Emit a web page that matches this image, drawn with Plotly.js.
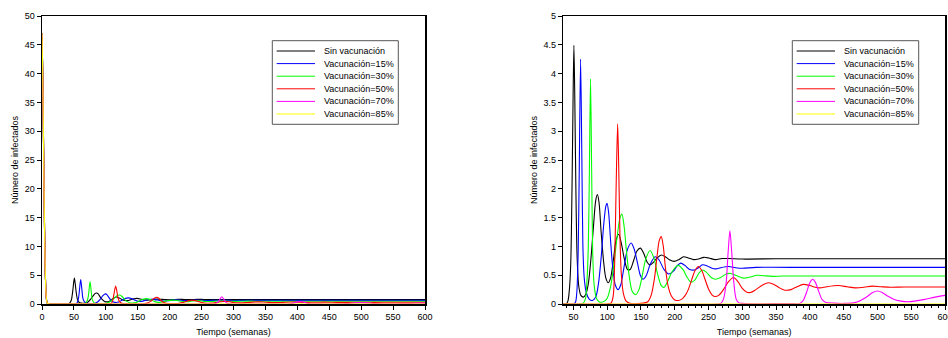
<!DOCTYPE html>
<html><head><meta charset="utf-8">
<script src="https://cdn.plot.ly/plotly-3.0.1.min.js"></script>
<style>html,body{margin:0;padding:0;background:#fff;overflow:hidden}#chart{width:948px;height:338px}</style>
</head><body><div id="chart"></div>
<script>
// ---- data ----
const seriesNames = ['Sin vacunación','Vacunación=15%','Vacunación=30%','Vacunación=50%','Vacunación=70%','Vacunación=85%'];
const seriesColors = ['#000000','#0000ff','#00ff00','#ff0000','#ff00ff','#ffff00'];

// initial outbreak (weeks 0-15), shared by all scenarios
const spikeT = [0,1,2,3,4,5,6,7,8,10,15];
const spikeY = [47,41,32,22,13,6.5,2.5,0.8,0.2,0.02,0];

const tBlack = [20,38,40,42,44,46,48,49.5,50.7,52,53.5,55.5,58,61,64.5,68,72,76,80,83,85.5,88,91,95,98,101.5,105,109,113,117,121,125,130,134,139,144,149,154,159,163,168,174,180,186,192,199,206,213,220,228,235,243,250,260,270,280,300,350,400,500,600];
const yBlack = [0,0,0.01,0.06,0.25,0.7,2.1,3.6,4.49,3.6,2.1,0.8,0.3,0.15,0.12,0.16,0.35,0.8,1.4,1.8,1.9,1.75,1.25,0.7,0.45,0.37,0.45,0.75,1.1,1.21,1.05,0.8,0.6,0.6,0.75,0.92,0.97,0.88,0.73,0.68,0.72,0.8,0.85,0.82,0.77,0.74,0.77,0.82,0.8,0.77,0.78,0.81,0.8,0.77,0.79,0.79,0.78,0.785,0.785,0.785,0.785];

const tBlue = [20,50,53,55,57,58.5,60.6,62.5,64,66,69,73,78,83,87,91,95,98,99.7,102,105,108,112,116,120,125,130,135.5,140,145,149,153,158,164,171,177,184,191,198,204,209,215,222,229,235,241,248,255,261,268,280,290,300,320,400,500,600];
const yBlue = [0,0,0.03,0.2,0.9,2.2,4.25,2.5,1.0,0.45,0.2,0.09,0.06,0.12,0.35,0.8,1.4,1.7,1.75,1.6,1.1,0.65,0.33,0.25,0.33,0.65,0.95,1.06,0.95,0.7,0.5,0.43,0.5,0.7,0.82,0.76,0.6,0.52,0.57,0.67,0.71,0.67,0.6,0.59,0.63,0.68,0.66,0.62,0.61,0.63,0.65,0.63,0.62,0.635,0.635,0.635,0.635];

const tGreen = [20,60,65,68,70,72,73.5,75.3,77,78.5,80.5,84,88,92,96,100,105,110,115,119,121.8,125,129,133,137,142,147,152,157,163.5,169,175,180,184,189,196,205,212,218,224,230,236,241,247,254,260,268,276,283,292,302,312,322,332,345,360,400,500,600];
const yGreen = [0,0,0.02,0.1,0.4,1.0,2.2,3.91,2.3,0.9,0.35,0.1,0.04,0.03,0.05,0.1,0.3,0.7,1.2,1.5,1.56,1.35,0.85,0.45,0.22,0.16,0.25,0.5,0.78,0.93,0.8,0.5,0.32,0.29,0.38,0.56,0.67,0.6,0.47,0.38,0.42,0.54,0.59,0.55,0.46,0.43,0.46,0.52,0.53,0.49,0.45,0.47,0.5,0.49,0.48,0.485,0.485,0.485,0.485];

const tRed = [20,100,106,109,111,113,115.4,117,119,121,124,128,135,150,160,165,170,174,177,180,183,186,190,195,200,205,210,215,220,225,230,235,240,245,250,255,259,265,272,279,287,294,300,306,312,320,330,339,347,355,363,372,381,390,400,408,415,425,442,455,467,480,492,505,520,540,600];
const yRed = [0,0,0.02,0.15,0.7,1.9,3.13,2.4,1.1,0.5,0.18,0.05,0.01,0.01,0.04,0.15,0.45,0.85,1.1,1.17,1.0,0.65,0.32,0.14,0.07,0.06,0.08,0.14,0.25,0.42,0.58,0.65,0.58,0.42,0.26,0.16,0.13,0.15,0.25,0.38,0.46,0.38,0.27,0.21,0.2,0.25,0.33,0.37,0.34,0.28,0.24,0.25,0.3,0.34,0.32,0.29,0.28,0.3,0.32,0.3,0.28,0.29,0.31,0.3,0.29,0.295,0.295];

const tMagenta = [20,262,268,272,276,279,281.6,284,287.5,291,295,300,320,370,385,390,395,400,404,408,413,418,423,435,450,465,475,485,493,500,507,515,525,535,545,555,570,585,600];
const yMagenta = [0,0,0.01,0.08,0.36,0.9,1.27,0.95,0.36,0.08,0.02,0.01,0.005,0.008,0.01,0.06,0.2,0.37,0.43,0.38,0.22,0.08,0.03,0.015,0.01,0.02,0.06,0.13,0.2,0.226,0.2,0.14,0.08,0.05,0.04,0.05,0.08,0.12,0.15];

const tYellow = [20,600];
const yYellow = [0,0];

const xTickStep = 50;
const yTickStepLeft = 5;
const yTickStepRight = 0.5;
const xTitle = 'Tiempo (semanas)';
const yTitle = 'Número de infectados';

// ---- build traces ----
const seriesT = [tBlack,tBlue,tGreen,tRed,tMagenta,tYellow];
const seriesY = [yBlack,yBlue,yGreen,yRed,yMagenta,yYellow];
const traces = [];
['x','x2'].forEach((xa,k)=>{
  seriesT.forEach((t,i)=>{
    traces.push({
      type:'scatter', mode:'lines',
      x: spikeT.concat(t), y: spikeY.concat(seriesY[i]),
      xaxis: xa, yaxis: k===0?'y':'y2',
      name: seriesNames[i], showlegend:false, hoverinfo:'skip',
      line:{color:seriesColors[i], width:1.1, shape:'spline', smoothing:0.8}
    });
  });
});

// ---- layout ----
const FONT = {family:'"Liberation Sans", Arial, sans-serif', size:9, color:'#000'};
const axisBase = {showline:true, linecolor:'#000', linewidth:1.5, mirror:true, ticks:'outside', ticklen:4,
  tickwidth:1, tickcolor:'#000', showgrid:false, zeroline:false, tickfont:FONT, fixedrange:true,
  ticklabeloverflow:'allow'};

// pixel -> paper helpers (plot area: x 42..945, y 16..304)
const PL=42, PW=903, PT=16, PH=288;
const px = v => (v-PL)/PW;
const py = v => (PT+PH-v)/PH;

const shapes = [], annotations = [];
[[272.3,398.3],[792.3,918.7]].forEach(([bx0,bx1])=>{
  shapes.push({type:'rect', xref:'paper', yref:'paper', x0:px(bx0), x1:px(bx1), y0:py(124.3), y1:py(40.7),
    line:{color:'#555', width:1}, fillcolor:'#fff', layer:'above'});
  seriesNames.forEach((n,i)=>{
    const yy = 51 + i*12.6;
    shapes.push({type:'line', xref:'paper', yref:'paper', x0:px(bx0+4.4), x1:px(bx0+42.7), y0:py(yy), y1:py(yy),
      line:{color:seriesColors[i], width:1}, layer:'above'});
    annotations.push({xref:'paper', yref:'paper', x:px(bx0+49.4), y:py(yy), xanchor:'left', yanchor:'middle',
      text:n, showarrow:false, font:FONT});
  });
});

const layout = {
  width:948, height:338, margin:{l:42, r:3, t:16, b:34},
  paper_bgcolor:'#fff', plot_bgcolor:'#fff', font:FONT, showlegend:false,
  xaxis: Object.assign({}, axisBase, {domain:[0, px(425)], range:[0,600], dtick:xTickStep, tick0:0, anchor:'y',
    title:{text:xTitle, font:FONT, standoff:7}}),
  yaxis: Object.assign({}, axisBase, {domain:[0,1], range:[0,50], dtick:yTickStepLeft, tick0:0, anchor:'x',
    title:{text:yTitle, font:FONT, standoff:4}}),
  xaxis2: Object.assign({}, axisBase, {domain:[px(563.3), 1], range:[35,600], dtick:xTickStep, tick0:0, anchor:'y2',
    minor:{dtick:10, tick0:0, ticks:'outside', ticklen:2, tickcolor:'#000', showgrid:false},
    title:{text:xTitle, font:FONT, standoff:7}}),
  yaxis2: Object.assign({}, axisBase, {domain:[0,1], range:[0,5], dtick:yTickStepRight, tick0:0, anchor:'x2',
    title:{text:yTitle, font:FONT, standoff:4}}),
  shapes: shapes, annotations: annotations
};

Plotly.newPlot('chart', traces, layout, {staticPlot:true, displayModeBar:false});
</script>
</body></html>
